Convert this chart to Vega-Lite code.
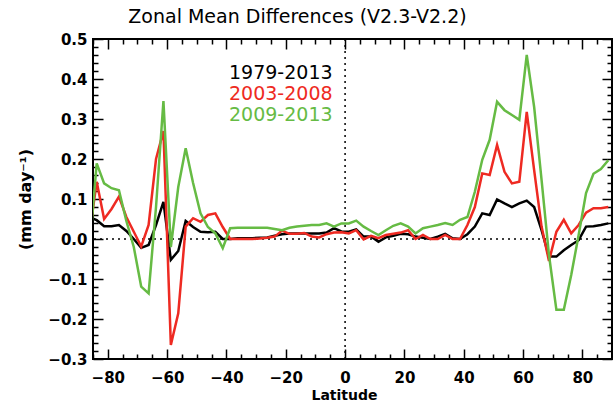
{
  "$schema": "https://vega.github.io/schema/vega-lite/v6.json",
  "width": 519,
  "height": 320,
  "autosize": {"type": "none"},
  "padding": {"left": 93, "top": 39, "right": 2, "bottom": 47},
  "background": "white",
  "title": {"text": "Zonal Mean Differences (V2.3-V2.2)", "fontSize": 19, "fontWeight": "normal", "font": "DejaVu Sans", "color": "black", "frame": "group", "anchor": "middle", "dx": -55, "offset": 5},
  "config": {
    "view": {"stroke": "black", "strokeWidth": 2},
    "axis": {"grid": false, "domain": false, "tickColor": "black", "tickWidth": 1.5, "labelColor": "black", "titleColor": "black", "labelFont": "DejaVu Sans", "titleFont": "DejaVu Sans"}
  },
  "datasets": {
    "zero": [{"v": 0}],
    "series": [
      {"lat": -86.25, "period": "1979-2013", "diff": 0.055},
      {"lat": -83.75, "period": "1979-2013", "diff": 0.047},
      {"lat": -81.25, "period": "1979-2013", "diff": 0.032},
      {"lat": -78.75, "period": "1979-2013", "diff": 0.032},
      {"lat": -76.25, "period": "1979-2013", "diff": 0.035},
      {"lat": -73.75, "period": "1979-2013", "diff": 0.02},
      {"lat": -71.25, "period": "1979-2013", "diff": 0.0},
      {"lat": -68.75, "period": "1979-2013", "diff": -0.022},
      {"lat": -66.25, "period": "1979-2013", "diff": -0.015},
      {"lat": -63.75, "period": "1979-2013", "diff": 0.035},
      {"lat": -61.25, "period": "1979-2013", "diff": 0.093},
      {"lat": -58.75, "period": "1979-2013", "diff": -0.052},
      {"lat": -56.25, "period": "1979-2013", "diff": -0.03},
      {"lat": -53.75, "period": "1979-2013", "diff": 0.045},
      {"lat": -51.25, "period": "1979-2013", "diff": 0.03},
      {"lat": -48.75, "period": "1979-2013", "diff": 0.018},
      {"lat": -46.25, "period": "1979-2013", "diff": 0.017},
      {"lat": -43.75, "period": "1979-2013", "diff": 0.018},
      {"lat": -41.25, "period": "1979-2013", "diff": 0.0},
      {"lat": -38.75, "period": "1979-2013", "diff": 0.0},
      {"lat": -36.25, "period": "1979-2013", "diff": 0.002},
      {"lat": -33.75, "period": "1979-2013", "diff": 0.002},
      {"lat": -31.25, "period": "1979-2013", "diff": 0.002},
      {"lat": -28.75, "period": "1979-2013", "diff": 0.003},
      {"lat": -26.25, "period": "1979-2013", "diff": 0.004},
      {"lat": -23.75, "period": "1979-2013", "diff": 0.008},
      {"lat": -21.25, "period": "1979-2013", "diff": 0.012},
      {"lat": -18.75, "period": "1979-2013", "diff": 0.014},
      {"lat": -16.25, "period": "1979-2013", "diff": 0.014},
      {"lat": -13.75, "period": "1979-2013", "diff": 0.014},
      {"lat": -11.25, "period": "1979-2013", "diff": 0.014},
      {"lat": -8.75, "period": "1979-2013", "diff": 0.014},
      {"lat": -6.25, "period": "1979-2013", "diff": 0.016},
      {"lat": -3.75, "period": "1979-2013", "diff": 0.027},
      {"lat": -1.25, "period": "1979-2013", "diff": 0.019},
      {"lat": 1.25, "period": "1979-2013", "diff": 0.018},
      {"lat": 3.75, "period": "1979-2013", "diff": 0.024},
      {"lat": 6.25, "period": "1979-2013", "diff": 0.006},
      {"lat": 8.75, "period": "1979-2013", "diff": 0.006},
      {"lat": 11.25, "period": "1979-2013", "diff": -0.007},
      {"lat": 13.75, "period": "1979-2013", "diff": 0.004},
      {"lat": 16.25, "period": "1979-2013", "diff": 0.008},
      {"lat": 18.75, "period": "1979-2013", "diff": 0.013},
      {"lat": 21.25, "period": "1979-2013", "diff": 0.012},
      {"lat": 23.75, "period": "1979-2013", "diff": 0.006},
      {"lat": 26.25, "period": "1979-2013", "diff": 0.003},
      {"lat": 28.75, "period": "1979-2013", "diff": 0.0},
      {"lat": 31.25, "period": "1979-2013", "diff": 0.006},
      {"lat": 33.75, "period": "1979-2013", "diff": 0.013},
      {"lat": 36.25, "period": "1979-2013", "diff": 0.002},
      {"lat": 38.75, "period": "1979-2013", "diff": 0.0},
      {"lat": 41.25, "period": "1979-2013", "diff": 0.012},
      {"lat": 43.75, "period": "1979-2013", "diff": 0.031},
      {"lat": 46.25, "period": "1979-2013", "diff": 0.064},
      {"lat": 48.75, "period": "1979-2013", "diff": 0.06},
      {"lat": 51.25, "period": "1979-2013", "diff": 0.099},
      {"lat": 53.75, "period": "1979-2013", "diff": 0.089},
      {"lat": 56.25, "period": "1979-2013", "diff": 0.08},
      {"lat": 58.75, "period": "1979-2013", "diff": 0.089},
      {"lat": 61.25, "period": "1979-2013", "diff": 0.096},
      {"lat": 63.75, "period": "1979-2013", "diff": 0.08},
      {"lat": 66.25, "period": "1979-2013", "diff": 0.022},
      {"lat": 68.75, "period": "1979-2013", "diff": -0.044},
      {"lat": 71.25, "period": "1979-2013", "diff": -0.044},
      {"lat": 73.75, "period": "1979-2013", "diff": -0.028},
      {"lat": 76.25, "period": "1979-2013", "diff": -0.015},
      {"lat": 78.75, "period": "1979-2013", "diff": -0.003},
      {"lat": 81.25, "period": "1979-2013", "diff": 0.031},
      {"lat": 83.75, "period": "1979-2013", "diff": 0.032},
      {"lat": 86.25, "period": "1979-2013", "diff": 0.035},
      {"lat": 88.75, "period": "1979-2013", "diff": 0.039},

      {"lat": -86.25, "period": "2003-2008", "diff": 0.01},
      {"lat": -83.75, "period": "2003-2008", "diff": 0.143},
      {"lat": -81.25, "period": "2003-2008", "diff": 0.05},
      {"lat": -78.75, "period": "2003-2008", "diff": 0.075},
      {"lat": -76.25, "period": "2003-2008", "diff": 0.106},
      {"lat": -73.75, "period": "2003-2008", "diff": 0.055},
      {"lat": -71.25, "period": "2003-2008", "diff": 0.018},
      {"lat": -68.75, "period": "2003-2008", "diff": -0.019},
      {"lat": -66.25, "period": "2003-2008", "diff": 0.035},
      {"lat": -63.75, "period": "2003-2008", "diff": 0.2},
      {"lat": -61.25, "period": "2003-2008", "diff": 0.27},
      {"lat": -58.75, "period": "2003-2008", "diff": -0.265},
      {"lat": -56.25, "period": "2003-2008", "diff": -0.186},
      {"lat": -53.75, "period": "2003-2008", "diff": 0.031},
      {"lat": -51.25, "period": "2003-2008", "diff": 0.052},
      {"lat": -48.75, "period": "2003-2008", "diff": 0.043},
      {"lat": -46.25, "period": "2003-2008", "diff": 0.06},
      {"lat": -43.75, "period": "2003-2008", "diff": 0.064},
      {"lat": -41.25, "period": "2003-2008", "diff": 0.03},
      {"lat": -38.75, "period": "2003-2008", "diff": 0.0},
      {"lat": -36.25, "period": "2003-2008", "diff": 0.0},
      {"lat": -33.75, "period": "2003-2008", "diff": 0.0},
      {"lat": -31.25, "period": "2003-2008", "diff": 0.0},
      {"lat": -28.75, "period": "2003-2008", "diff": 0.001},
      {"lat": -26.25, "period": "2003-2008", "diff": 0.003},
      {"lat": -23.75, "period": "2003-2008", "diff": 0.006},
      {"lat": -21.25, "period": "2003-2008", "diff": 0.021},
      {"lat": -18.75, "period": "2003-2008", "diff": 0.013},
      {"lat": -16.25, "period": "2003-2008", "diff": 0.013},
      {"lat": -13.75, "period": "2003-2008", "diff": 0.015},
      {"lat": -11.25, "period": "2003-2008", "diff": 0.006},
      {"lat": -8.75, "period": "2003-2008", "diff": 0.004},
      {"lat": -6.25, "period": "2003-2008", "diff": 0.012},
      {"lat": -3.75, "period": "2003-2008", "diff": 0.016},
      {"lat": -1.25, "period": "2003-2008", "diff": 0.017},
      {"lat": 1.25, "period": "2003-2008", "diff": 0.014},
      {"lat": 3.75, "period": "2003-2008", "diff": 0.022},
      {"lat": 6.25, "period": "2003-2008", "diff": -0.001},
      {"lat": 8.75, "period": "2003-2008", "diff": 0.008},
      {"lat": 11.25, "period": "2003-2008", "diff": 0.002},
      {"lat": 13.75, "period": "2003-2008", "diff": 0.01},
      {"lat": 16.25, "period": "2003-2008", "diff": 0.013},
      {"lat": 18.75, "period": "2003-2008", "diff": 0.016},
      {"lat": 21.25, "period": "2003-2008", "diff": 0.022},
      {"lat": 23.75, "period": "2003-2008", "diff": 0.0},
      {"lat": 26.25, "period": "2003-2008", "diff": 0.01},
      {"lat": 28.75, "period": "2003-2008", "diff": 0.0},
      {"lat": 31.25, "period": "2003-2008", "diff": 0.0},
      {"lat": 33.75, "period": "2003-2008", "diff": 0.01},
      {"lat": 36.25, "period": "2003-2008", "diff": 0.0},
      {"lat": 38.75, "period": "2003-2008", "diff": 0.0},
      {"lat": 41.25, "period": "2003-2008", "diff": 0.035},
      {"lat": 43.75, "period": "2003-2008", "diff": 0.08},
      {"lat": 46.25, "period": "2003-2008", "diff": 0.164},
      {"lat": 48.75, "period": "2003-2008", "diff": 0.16},
      {"lat": 51.25, "period": "2003-2008", "diff": 0.235},
      {"lat": 53.75, "period": "2003-2008", "diff": 0.168},
      {"lat": 56.25, "period": "2003-2008", "diff": 0.139},
      {"lat": 58.75, "period": "2003-2008", "diff": 0.143},
      {"lat": 61.25, "period": "2003-2008", "diff": 0.318},
      {"lat": 63.75, "period": "2003-2008", "diff": 0.172},
      {"lat": 66.25, "period": "2003-2008", "diff": 0.031},
      {"lat": 68.75, "period": "2003-2008", "diff": -0.055},
      {"lat": 71.25, "period": "2003-2008", "diff": 0.018},
      {"lat": 73.75, "period": "2003-2008", "diff": 0.048},
      {"lat": 76.25, "period": "2003-2008", "diff": 0.014},
      {"lat": 78.75, "period": "2003-2008", "diff": 0.035},
      {"lat": 81.25, "period": "2003-2008", "diff": 0.066},
      {"lat": 83.75, "period": "2003-2008", "diff": 0.077},
      {"lat": 86.25, "period": "2003-2008", "diff": 0.077},
      {"lat": 88.75, "period": "2003-2008", "diff": 0.08},

      {"lat": -86.25, "period": "2009-2013", "diff": -0.03},
      {"lat": -83.75, "period": "2009-2013", "diff": 0.189},
      {"lat": -81.25, "period": "2009-2013", "diff": 0.139},
      {"lat": -78.75, "period": "2009-2013", "diff": 0.127},
      {"lat": -76.25, "period": "2009-2013", "diff": 0.122},
      {"lat": -73.75, "period": "2009-2013", "diff": 0.045},
      {"lat": -71.25, "period": "2009-2013", "diff": -0.02},
      {"lat": -68.75, "period": "2009-2013", "diff": -0.119},
      {"lat": -66.25, "period": "2009-2013", "diff": -0.136},
      {"lat": -63.75, "period": "2009-2013", "diff": 0.08},
      {"lat": -61.25, "period": "2009-2013", "diff": 0.345},
      {"lat": -58.75, "period": "2009-2013", "diff": -0.02},
      {"lat": -56.25, "period": "2009-2013", "diff": 0.13},
      {"lat": -53.75, "period": "2009-2013", "diff": 0.227},
      {"lat": -51.25, "period": "2009-2013", "diff": 0.14},
      {"lat": -48.75, "period": "2009-2013", "diff": 0.064},
      {"lat": -46.25, "period": "2009-2013", "diff": 0.03},
      {"lat": -43.75, "period": "2009-2013", "diff": 0.014},
      {"lat": -41.25, "period": "2009-2013", "diff": -0.023},
      {"lat": -38.75, "period": "2009-2013", "diff": 0.027},
      {"lat": -36.25, "period": "2009-2013", "diff": 0.028},
      {"lat": -33.75, "period": "2009-2013", "diff": 0.028},
      {"lat": -31.25, "period": "2009-2013", "diff": 0.028},
      {"lat": -28.75, "period": "2009-2013", "diff": 0.028},
      {"lat": -26.25, "period": "2009-2013", "diff": 0.028},
      {"lat": -23.75, "period": "2009-2013", "diff": 0.025},
      {"lat": -21.25, "period": "2009-2013", "diff": 0.022},
      {"lat": -18.75, "period": "2009-2013", "diff": 0.028},
      {"lat": -16.25, "period": "2009-2013", "diff": 0.031},
      {"lat": -13.75, "period": "2009-2013", "diff": 0.033},
      {"lat": -11.25, "period": "2009-2013", "diff": 0.035},
      {"lat": -8.75, "period": "2009-2013", "diff": 0.035},
      {"lat": -6.25, "period": "2009-2013", "diff": 0.039},
      {"lat": -3.75, "period": "2009-2013", "diff": 0.031},
      {"lat": -1.25, "period": "2009-2013", "diff": 0.039},
      {"lat": 1.25, "period": "2009-2013", "diff": 0.039},
      {"lat": 3.75, "period": "2009-2013", "diff": 0.046},
      {"lat": 6.25, "period": "2009-2013", "diff": 0.031},
      {"lat": 8.75, "period": "2009-2013", "diff": 0.02},
      {"lat": 11.25, "period": "2009-2013", "diff": 0.01},
      {"lat": 13.75, "period": "2009-2013", "diff": 0.022},
      {"lat": 16.25, "period": "2009-2013", "diff": 0.033},
      {"lat": 18.75, "period": "2009-2013", "diff": 0.039},
      {"lat": 21.25, "period": "2009-2013", "diff": 0.031},
      {"lat": 23.75, "period": "2009-2013", "diff": 0.014},
      {"lat": 26.25, "period": "2009-2013", "diff": 0.027},
      {"lat": 28.75, "period": "2009-2013", "diff": 0.031},
      {"lat": 31.25, "period": "2009-2013", "diff": 0.035},
      {"lat": 33.75, "period": "2009-2013", "diff": 0.04},
      {"lat": 36.25, "period": "2009-2013", "diff": 0.035},
      {"lat": 38.75, "period": "2009-2013", "diff": 0.048},
      {"lat": 41.25, "period": "2009-2013", "diff": 0.055},
      {"lat": 43.75, "period": "2009-2013", "diff": 0.118},
      {"lat": 46.25, "period": "2009-2013", "diff": 0.198},
      {"lat": 48.75, "period": "2009-2013", "diff": 0.248},
      {"lat": 51.25, "period": "2009-2013", "diff": 0.343},
      {"lat": 53.75, "period": "2009-2013", "diff": 0.322},
      {"lat": 56.25, "period": "2009-2013", "diff": 0.31},
      {"lat": 58.75, "period": "2009-2013", "diff": 0.298},
      {"lat": 61.25, "period": "2009-2013", "diff": 0.46},
      {"lat": 63.75, "period": "2009-2013", "diff": 0.33},
      {"lat": 66.25, "period": "2009-2013", "diff": 0.148},
      {"lat": 68.75, "period": "2009-2013", "diff": -0.04},
      {"lat": 71.25, "period": "2009-2013", "diff": -0.177},
      {"lat": 73.75, "period": "2009-2013", "diff": -0.177},
      {"lat": 76.25, "period": "2009-2013", "diff": -0.09},
      {"lat": 78.75, "period": "2009-2013", "diff": 0.01},
      {"lat": 81.25, "period": "2009-2013", "diff": 0.115},
      {"lat": 83.75, "period": "2009-2013", "diff": 0.163},
      {"lat": 86.25, "period": "2009-2013", "diff": 0.175},
      {"lat": 88.75, "period": "2009-2013", "diff": 0.197}
    ]
  },
  "layer": [
    {
      "data": {"name": "zero"},
      "mark": {"type": "rule", "stroke": "black", "strokeWidth": 1.5, "strokeDash": [2, 4]},
      "encoding": {
        "y": {"field": "v", "type": "quantitative", "scale": {"domain": [-0.3, 0.5], "nice": false, "zero": false}, "axis": null}
      }
    },
    {
      "data": {"name": "zero"},
      "mark": {"type": "rule", "stroke": "black", "strokeWidth": 1.5, "strokeDash": [2, 4]},
      "encoding": {
        "x": {"field": "v", "type": "quantitative", "scale": {"domain": [-85, 90], "nice": false, "zero": false}, "axis": null}
      }
    },
    {
      "data": {"name": "series"},
      "mark": {"type": "line", "strokeWidth": 2.5, "clip": true},
      "encoding": {
        "x": {"field": "lat", "type": "quantitative", "scale": {"domain": [-85, 90], "nice": false, "zero": false},
          "axis": {"orient": "bottom", "values": [-80, -60, -40, -20, 0, 20, 40, 60, 80], "format": "d", "tickSize": -10, "labelFontSize": 15, "labelFontWeight": "bold", "labelPadding": 21, "title": "Latitude", "titleFontSize": 14, "titleFontWeight": "bold", "titlePadding": 3, "titleX": 251}},
        "y": {"field": "diff", "type": "quantitative", "scale": {"domain": [-0.3, 0.5], "nice": false, "zero": false},
          "axis": {"orient": "left", "values": [-0.3, -0.2, -0.1, 0, 0.1, 0.2, 0.3, 0.4, 0.5], "format": ".1f", "tickSize": -10, "labelFontSize": 15, "labelFontWeight": "bold", "labelPadding": 16, "title": "(mm day⁻¹)", "titleFontSize": 16, "titleFontWeight": "bold", "titlePadding": 14}},
        "color": {"field": "period", "type": "nominal",
          "scale": {"domain": ["1979-2013", "2003-2008", "2009-2013"], "range": ["#000000", "#ee2a22", "#66bb44"]},
          "legend": {"orient": "none", "legendX": 117, "legendY": 24, "title": null, "symbolSize": 0, "symbolStrokeWidth": 0, "symbolOpacity": 0, "labelOffset": 0, "labelFontSize": 19, "labelFont": "DejaVu Sans", "rowPadding": 1, "padding": 0,
            "labelLimit": 300,
            "encode": {"labels": {"update": {"fill": {"signal": "scale('color', datum.value)"}}}}}}
      }
    },
    {
      "data": {"name": "series"},
      "mark": {"type": "point", "opacity": 0},
      "encoding": {
        "x": {"field": "lat", "type": "quantitative", "scale": {"domain": [-85, 90], "nice": false, "zero": false},
          "axis": {"orient": "top", "values": [-80, -60, -40, -20, 0, 20, 40, 60, 80], "tickSize": -10, "labels": false, "title": null}},
        "y": {"field": "diff", "type": "quantitative", "scale": {"domain": [-0.3, 0.5], "nice": false, "zero": false},
          "axis": {"orient": "right", "values": [-0.3, -0.2, -0.1, 0, 0.1, 0.2, 0.3, 0.4, 0.5], "tickSize": -10, "labels": false, "title": null}}
      }
    },
    {
      "data": {"name": "series"},
      "mark": {"type": "point", "opacity": 0},
      "encoding": {
        "x": {"field": "lat", "type": "quantitative", "scale": {"domain": [-85, 90], "nice": false, "zero": false},
          "axis": {"orient": "bottom", "values": [-85, -75, -70, -65, -55, -50, -45, -35, -30, -25, -15, -10, -5, 5, 10, 15, 25, 30, 35, 45, 50, 55, 65, 70, 75, 85], "tickSize": -5, "labels": false, "title": null}},
        "y": {"field": "diff", "type": "quantitative", "scale": {"domain": [-0.3, 0.5], "nice": false, "zero": false},
          "axis": {"orient": "left", "values": [-0.28, -0.26, -0.24, -0.22, -0.18, -0.16, -0.14, -0.12, -0.08, -0.06, -0.04, -0.02, 0.02, 0.04, 0.06, 0.08, 0.12, 0.14, 0.16, 0.18, 0.22, 0.24, 0.26, 0.28, 0.32, 0.34, 0.36, 0.38, 0.42, 0.44, 0.46, 0.48], "tickSize": -5, "labels": false, "title": null}}
      }
    },
    {
      "data": {"name": "series"},
      "mark": {"type": "point", "opacity": 0},
      "encoding": {
        "x": {"field": "lat", "type": "quantitative", "scale": {"domain": [-85, 90], "nice": false, "zero": false},
          "axis": {"orient": "top", "values": [-85, -75, -70, -65, -55, -50, -45, -35, -30, -25, -15, -10, -5, 5, 10, 15, 25, 30, 35, 45, 50, 55, 65, 70, 75, 85], "tickSize": -5, "labels": false, "title": null}},
        "y": {"field": "diff", "type": "quantitative", "scale": {"domain": [-0.3, 0.5], "nice": false, "zero": false},
          "axis": {"orient": "right", "values": [-0.28, -0.26, -0.24, -0.22, -0.18, -0.16, -0.14, -0.12, -0.08, -0.06, -0.04, -0.02, 0.02, 0.04, 0.06, 0.08, 0.12, 0.14, 0.16, 0.18, 0.22, 0.24, 0.26, 0.28, 0.32, 0.34, 0.36, 0.38, 0.42, 0.44, 0.46, 0.48], "tickSize": -5, "labels": false, "title": null}}
      }
    }
  ],
  "resolve": {"axis": {"x": "independent", "y": "independent"}}
}
